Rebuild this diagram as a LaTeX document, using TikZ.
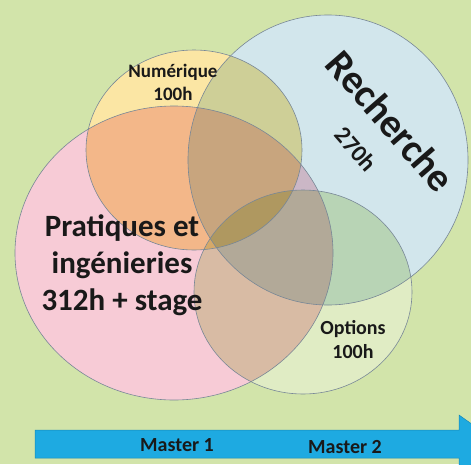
\documentclass[tikz,border=0pt]{standalone}
\usepackage{fontspec}
\setmainfont{Carlito}
\usepackage{tikz}

\definecolor{fond}{RGB}{210,228,170}
\definecolor{rose}{RGB}{247,203,214}
\definecolor{jaune}{RGB}{251,230,164}
\definecolor{bleu}{RGB}{210,230,236}
\definecolor{vert}{RGB}{224,236,196}
\definecolor{bord}{RGB}{120,135,150}
\definecolor{fleche}{RGB}{30,170,225}

\begin{document}
\begin{tikzpicture}[x=1pt,y=-1pt,
        cercle/.style={draw=bord, line width=0.6pt},
        etiquette/.style={align=center, inner sep=0pt, text=black!90}]
        \fill[fond] (0,0) rectangle (471,464);
        \clip (0,0) rectangle (471,464);

        % fond blanc sous les cercles
        \fill[white] (174,253) ellipse (159 and 147);
        \fill[white] (194,150) ellipse (108 and 100);
        \fill[white] (328,160) ellipse (140 and 145);
        \fill[white] (303,292) ellipse (109 and 102);

        \begin{scope}[blend mode=multiply]
            \fill[rose]  (174,253) ellipse (159 and 147);
            \fill[jaune] (194,150) ellipse (108 and 100);
            \fill[bleu]  (328,160) ellipse (140 and 145);
            \fill[vert]  (303,292) ellipse (109 and 102);
        \end{scope}

        \draw[cercle] (174,253) ellipse (159 and 147);
        \draw[cercle] (194,150) ellipse (108 and 100);
        \draw[cercle] (328,160) ellipse (140 and 145);
        \draw[cercle] (303,292) ellipse (109 and 102);

        % fleche du temps
        \fill[fleche, draw=fleche!80!black, line width=0.5pt] (35,430) -- (459,430) -- (459,415) -- (500,444)
            -- (459,473) -- (459,458) -- (35,458) -- cycle;

        \node[etiquette, font=\bfseries\fontsize{31}{37}\selectfont] (pratiques) at (122,265) {Pratiques et\\ingénieries\\312h + stage};
        \node[etiquette, font=\bfseries\fontsize{19}{23}\selectfont] (numerique) at (173,82) {Numérique\\100h};
        \node[etiquette, font=\bfseries\fontsize{40}{44}\selectfont, rotate=-49] (recherche) at (391,121) {Recherche};
        \node[etiquette, font=\bfseries\fontsize{24}{28}\selectfont, rotate=-49] (heures) at (356,149) {270h};
        \node[etiquette, font=\bfseries\fontsize{20}{24}\selectfont] (options) at (353,340) {Options\\100h};
        \node[etiquette, font=\bfseries\fontsize{20}{24}\selectfont] (master1) at (177,445) {Master 1};
        \node[etiquette, font=\bfseries\fontsize{20}{24}\selectfont] (master2) at (345,447) {Master 2};
\end{tikzpicture}
\end{document}
